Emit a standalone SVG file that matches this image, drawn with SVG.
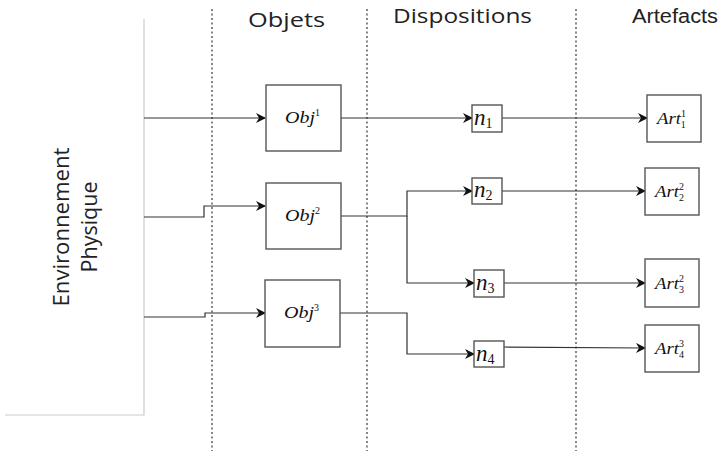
<svg xmlns="http://www.w3.org/2000/svg" width="727" height="451" viewBox="0 0 727 451">
<style>
.title{font-family:"Open Sans","DejaVu Sans",sans-serif;font-size:20px;fill:#222}
.env{font-family:"Open Sans","DejaVu Sans",sans-serif;font-size:21px;fill:#222}
.box{fill:#fff;stroke:#555;stroke-width:1.4}
.math{font-family:"Liberation Serif","DejaVu Serif",serif;font-style:italic;fill:#111}
.sep{stroke:#444;stroke-width:1.3;stroke-dasharray:2,2.5;fill:none}
.edge{stroke:#333;stroke-width:1.2;fill:none}
</style>
<defs>
<marker id="arr" viewBox="0 0 10 10" refX="9" refY="5" markerWidth="10" markerHeight="10" markerUnits="userSpaceOnUse" orient="auto">
<path d="M0,0 L10,5 L0,10 L3,5 Z" fill="#111"/>
</marker>
</defs>
<rect width="727" height="451" fill="#fff"/>
<g id="environnement">
<polyline points="144,19 144,415 5,415" fill="none" stroke="#ccc" stroke-width="1.2"/>
<text class="env" transform="translate(69,227) rotate(-90)" text-anchor="middle" textLength="159" lengthAdjust="spacingAndGlyphs">Environnement</text>
<text class="env" transform="translate(97,227) rotate(-90)" text-anchor="middle" textLength="91" lengthAdjust="spacingAndGlyphs">Physique</text>
</g>
<g id="separateurs">
<line class="sep" x1="212" y1="9" x2="212" y2="451"/>
<line class="sep" x1="367" y1="9" x2="367" y2="451"/>
<line class="sep" x1="576" y1="9" x2="576" y2="451"/>
</g>
<g id="titres">
<text class="title" x="248" y="27" textLength="77" lengthAdjust="spacingAndGlyphs">Objets</text>
<text class="title" x="393" y="23" textLength="139" lengthAdjust="spacingAndGlyphs">Dispositions</text>
<text class="title" x="632" y="23" textLength="86" lengthAdjust="spacingAndGlyphs" style="font-family:'Liberation Sans',Arial,sans-serif">Artefacts</text>
</g>
<g id="connecteurs">
<polyline class="edge" points="144,118 265,118" marker-end="url(#arr)"/>
<polyline class="edge" points="144,217 204,217 204,206 265,206" marker-end="url(#arr)"/>
<polyline class="edge" points="144,317 205,317 205,313 265,313" marker-end="url(#arr)"/>
<polyline class="edge" points="341,118 472,118" marker-end="url(#arr)"/>
<polyline class="edge" points="341,216 407,216 407,191 472,191" marker-end="url(#arr)"/>
<polyline class="edge" points="407,216 407,283 474,283" marker-end="url(#arr)"/>
<polyline class="edge" points="340,313 407,313 407,354 474,354" marker-end="url(#arr)"/>
<polyline class="edge" points="502,118 647,118" marker-end="url(#arr)"/>
<polyline class="edge" points="502,191 645,191" marker-end="url(#arr)"/>
<polyline class="edge" points="504,283 645,283" marker-end="url(#arr)"/>
<polyline class="edge" points="504,347 645,348" marker-end="url(#arr)"/>
</g>
<g id="obj1">
<rect class="box" x="266" y="85" width="75" height="66"/>
<text class="math" x="285" y="123" font-size="17"><tspan textLength="30" lengthAdjust="spacingAndGlyphs">Obj</tspan><tspan font-size="10" dy="-7" font-style="normal">1</tspan></text>
</g>
<g id="obj2">
<rect class="box" x="266" y="183" width="75" height="66"/>
<text class="math" x="285" y="221" font-size="17"><tspan textLength="30" lengthAdjust="spacingAndGlyphs">Obj</tspan><tspan font-size="10" dy="-7" font-style="normal">2</tspan></text>
</g>
<g id="obj3">
<rect class="box" x="265" y="280" width="75" height="67"/>
<text class="math" x="284" y="318" font-size="17"><tspan textLength="30" lengthAdjust="spacingAndGlyphs">Obj</tspan><tspan font-size="10" dy="-7" font-style="normal">3</tspan></text>
</g>
<g id="n1">
<rect class="box" x="472" y="105" width="30" height="27"/>
<text class="math" x="474" y="125" font-size="23">n<tspan font-size="14" dy="3" font-style="normal">1</tspan></text>
</g>
<g id="n2">
<rect class="box" x="472" y="178" width="30" height="26"/>
<text class="math" x="474" y="197" font-size="23">n<tspan font-size="14" dy="3" font-style="normal">2</tspan></text>
</g>
<g id="n3">
<rect class="box" x="474" y="270" width="30" height="27"/>
<text class="math" x="476" y="290" font-size="23">n<tspan font-size="14" dy="3" font-style="normal">3</tspan></text>
</g>
<g id="n4">
<rect class="box" x="474" y="341" width="30" height="26"/>
<text class="math" x="476" y="361" font-size="23">n<tspan font-size="14" dy="3" font-style="normal">4</tspan></text>
</g>
<g id="art1">
<rect class="box" x="647" y="95" width="54" height="47"/>
<text class="math" x="657" y="124" font-size="17"><tspan textLength="24" lengthAdjust="spacingAndGlyphs">Art</tspan><tspan font-size="10" dy="-7" font-style="normal">1</tspan><tspan font-size="10" dx="-5" dy="11" font-style="normal">1</tspan></text>
</g>
<g id="art2">
<rect class="box" x="645" y="168" width="54" height="47"/>
<text class="math" x="655" y="197" font-size="17"><tspan textLength="24" lengthAdjust="spacingAndGlyphs">Art</tspan><tspan font-size="10" dy="-7" font-style="normal">2</tspan><tspan font-size="10" dx="-5" dy="11" font-style="normal">2</tspan></text>
</g>
<g id="art3">
<rect class="box" x="645" y="259" width="54" height="48"/>
<text class="math" x="655" y="289" font-size="17"><tspan textLength="24" lengthAdjust="spacingAndGlyphs">Art</tspan><tspan font-size="10" dy="-7" font-style="normal">2</tspan><tspan font-size="10" dx="-5" dy="11" font-style="normal">3</tspan></text>
</g>
<g id="art4">
<rect class="box" x="645" y="325" width="54" height="47"/>
<text class="math" x="655" y="354" font-size="17"><tspan textLength="24" lengthAdjust="spacingAndGlyphs">Art</tspan><tspan font-size="10" dy="-7" font-style="normal">3</tspan><tspan font-size="10" dx="-5" dy="11" font-style="normal">4</tspan></text>
</g>
</svg>
